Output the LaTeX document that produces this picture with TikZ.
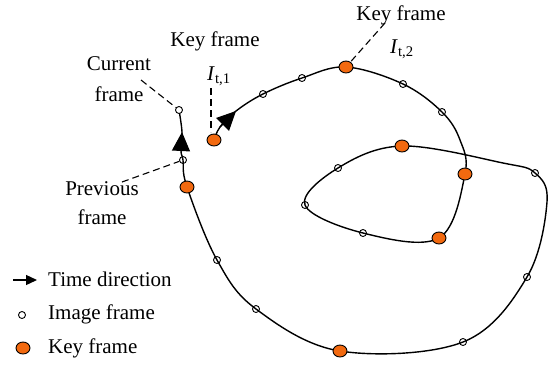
\documentclass[tikz,border=0pt]{standalone}
\usepackage{fontspec}
\setmainfont{Liberation Serif}
\usetikzlibrary{arrows.meta,shapes.geometric}
\definecolor{kforange}{RGB}{242,105,15}
\tikzset{
  curve/.style={line width=1.4pt},
  kf/.style={ellipse,draw,fill=kforange,line width=0.9pt,minimum width=14pt,minimum height=12pt,inner sep=0pt},
  imf/.style={circle,draw,line width=0.9pt,minimum size=7pt,inner sep=0pt},
  lead/.style={line width=1.1pt,dash pattern=on 7pt off 4pt},
  tarrow/.style={line width=1.3pt,-{Triangle[length=19pt,width=18pt]}},
  larrow/.style={line width=1.3pt,-{Triangle[length=11pt,width=10pt]}},
  lbl/.style={font=\fontsize{21}{25}\selectfont,inner sep=0pt}
}
\begin{document}
\begin{tikzpicture}[x=1pt,y=-1pt]
\useasboundingbox (0,0) rectangle (552,365);
% curve points
\coordinate (k1) at (214,140);
\coordinate (a1) at (220,127);
\coordinate (a1t) at (236,111);
\coordinate (f1) at (263,94);
\coordinate (f2) at (302,78);
\coordinate (k2) at (346,67);
\coordinate (f3) at (403,84);
\coordinate (f4) at (442,112);
\coordinate (k3) at (465,174);
\coordinate (k4) at (439,238);
\coordinate (f5) at (363,233);
\coordinate (f6) at (305,205);
\coordinate (f7) at (338,168);
\coordinate (k5) at (402,146);
\coordinate (f8) at (535,173);
\coordinate (f9) at (527,277);
\coordinate (f10) at (463,342);
\coordinate (k6) at (340,351);
\coordinate (f11) at (256,309);
\coordinate (f12) at (217,260);
\coordinate (k7) at (187,187);
\coordinate (f13) at (183,160);
\coordinate (a2) at (181,151);
\coordinate (a2t) at (182,132);
\coordinate (f14) at (179,110);
\draw[curve] plot[smooth,tension=0.6] coordinates {
 (k1) (a1) (a1t) (f1) (f2) (k2) (f3) (f4) (460,140) (k3) (k4)
 (f5) (f6) (f7) (k5) (503,163) (f8) (547,202) (f9) (f10) (k6)
 (f11) (f12) (k7) (f13) (a2) (a2t) (f14)};
% arrows
\draw[tarrow] (a1) -- (a1t);
\draw[tarrow] (a2) -- (a2t);
% markers
\foreach \p in {f1,f2,f3,f4,f5,f6,f7,f8,f9,f10,f11,f12,f13}{\node[imf] (n\p) at (\p) {};}
\node[imf,fill=white] (nf14) at (f14) {};
\foreach \p in {k1,k2,k3,k4,k5,k6,k7}{\node[kf] (n\p) at (\p) {};}
% labels
\node[lbl,anchor=base] (lkey1) at (215,46) {Key frame};
\node[lbl,anchor=base west] (li1) at (207,80) {\textit{I}\textsubscript{t,1}};
\node[lbl,anchor=base] (lcur1) at (119,70) {Current};
\node[lbl,anchor=base] (lcur2) at (119,101) {frame};
\node[lbl,anchor=base] (lprev1) at (102,195) {Previous};
\node[lbl,anchor=base] (lprev2) at (102,224) {frame};
\node[lbl,anchor=base] (lkey2) at (401,20) {Key frame};
\node[lbl,anchor=base west] (li2) at (390,53) {\textit{I}\textsubscript{t,2}};
% leaders
\coordinate (d1s) at (141,80);
\coordinate (d2s) at (211,88);
\coordinate (d2e) at (211,132);
\coordinate (d3s) at (122,182);
\coordinate (d4s) at (385,23);
\draw[lead] (d1s) -- (nf14);
\draw[lead] (d2s) -- (d2e);
\draw[lead] (d3s) -- (nf13);
\draw[lead] (d4s) -- (nk2);
% legend
\coordinate (la) at (13,280);
\coordinate (lat) at (37,280);
\draw[larrow] (la) -- (lat);
\node[imf,fill=white] (limf) at (22,315) {};
\node[kf] (lkf) at (23,348) {};
\node[lbl,anchor=base west] (lt1) at (48,286) {Time direction};
\node[lbl,anchor=base west] (lt2) at (48,319) {Image frame};
\node[lbl,anchor=base west] (lt3) at (48,353) {Key frame};
\end{tikzpicture}
\end{document}
